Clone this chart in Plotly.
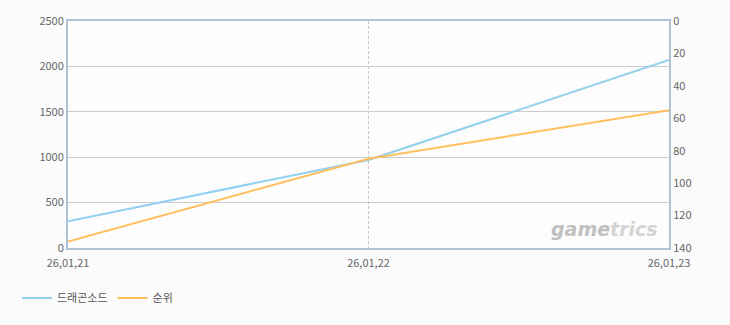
import plotly.graph_objects as go

dates = ["26,01,21", "26,01,22", "26,01,23"]
dragon_sword = [295, 970, 2070]
rank = [136, 85, 55]

FONT = "Noto Sans CJK KR, DejaVu Sans, sans-serif"
xs = list(range(len(dates)))

fig = go.Figure()
fig.add_trace(go.Scatter(x=xs, y=dragon_sword, name="드래곤소드", mode="lines",
                         line=dict(color="#92d0f0", width=2), yaxis="y"))
fig.add_trace(go.Scatter(x=xs, y=rank, name="순위", mode="lines",
                         line=dict(color="#ffbf5e", width=2), yaxis="y2"))

fig.update_layout(
    width=730, height=325,
    margin=dict(l=68, r=61, t=16, b=77),
    paper_bgcolor="#fbfbfb", plot_bgcolor="#fdfdfd",
    font=dict(family=FONT, size=11, color="#666666"),
    showlegend=True,
    legend=dict(orientation="h", x=-0.085, xanchor="left", y=-0.22, yanchor="middle",
                font=dict(size=11, color="#555555"), bgcolor="rgba(0,0,0,0)",
                itemwidth=30),
    xaxis=dict(range=[0, 2], tickmode="array", tickvals=xs, ticktext=dates,
               showgrid=True, gridcolor="#c8c8c8", griddash="3px,2px", gridwidth=1,
               showline=True, linecolor="#b0c2d6", linewidth=2, mirror=True,
               zeroline=False, ticks="", ticklabelstandoff=4, fixedrange=True),
    yaxis=dict(range=[0, 2500], dtick=500, showgrid=True, gridcolor="#cccccc",
               showline=True, linecolor="#b0c2d6", linewidth=2,
               zeroline=False, ticks=""),
    yaxis2=dict(range=[140, 0], dtick=20, overlaying="y", side="right",
                showgrid=False, showline=True, linecolor="#b0c2d6", linewidth=2,
                zeroline=False, ticks=""),
    annotations=[dict(text="<b><i>game</i></b><span style='color:#d4d4d4'><b><i>trics</i></b></span>",
                      xref="paper", yref="paper",
                      x=0.985, y=0.085, xanchor="right", yanchor="middle",
                      showarrow=False, font=dict(size=19, color="#c0c0c0",
                                                 family="DejaVu Sans, sans-serif"))],
)

fig.write_html("out.html")
